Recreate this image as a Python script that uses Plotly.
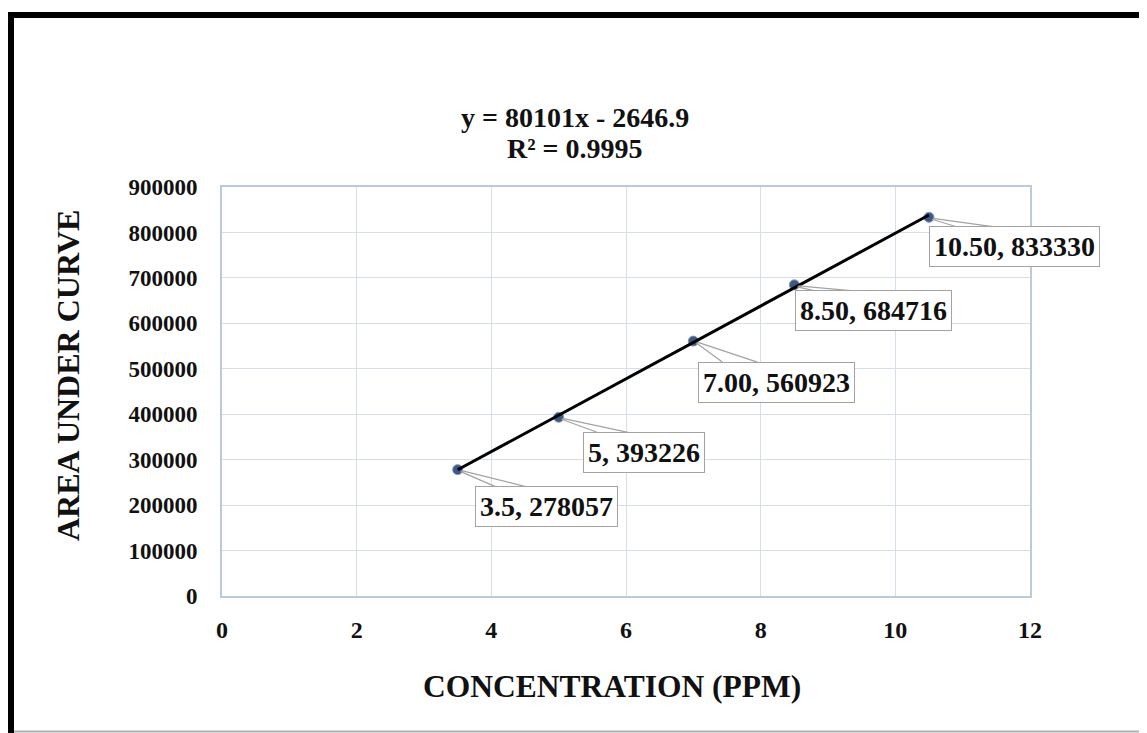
import plotly.graph_objects as go

# ---- data ----
conc = [3.5, 5, 7, 8.5, 10.5]
area = [278057, 393226, 560923, 684716, 833330]
conc_text = ["3.5", "5", "7.00", "8.50", "10.50"]
area_text = ["278057", "393226", "560923", "684716", "833330"]
slope = 80101
intercept = -2646.9
r2_text = "0.9995"
x_ticks = [0, 2, 4, 6, 8, 10, 12]
y_ticks = [0, 100000, 200000, 300000, 400000, 500000, 600000, 700000, 800000, 900000]

# ---- layout geometry (screen pixels; page body has an 8px margin) ----
OFF = 8
W, H = 1147 - OFF, 733 - OFF
ML, MT = 222 - OFF, 187 - OFF
PW, PH = 808, 409
MR, MB = W - ML - PW, H - MT - PH


def fx(px):
    return (px - OFF - ML) / PW


def fy(py):
    return (MT + PH - (py - OFF)) / PH


# label box offsets (px, right / down) and wedge base offsets
label_off = [(89, 37), (85, 35), (83, 41), (79, 26), (85, 29)]
wedge = [(40, 72, 18), (41, 74, 16), (29, 64, 21), (25, 70, 7), (29, 69, 10)]

SERIF = "Liberation Serif, Times New Roman, serif"
GRAY = "#a3a3a3"

trend_x = [conc[0], conc[-1]]
trend_y = [slope * v + intercept for v in trend_x]

fig = go.Figure()
fig.add_trace(go.Scatter(x=conc, y=area, mode="markers",
                         marker=dict(size=10, color="#3e5886",
                                     line=dict(color="#8397b8", width=1)),
                         showlegend=False, hoverinfo="x+y"))
fig.add_trace(go.Scatter(x=trend_x, y=trend_y, mode="lines",
                         line=dict(color="black", width=3),
                         showlegend=False, hoverinfo="skip"))

shapes = []
# black frame
shapes.append(dict(type="rect", xref="paper", yref="paper",
                   x0=fx(11), x1=fx(1147 + 20), y0=fy(15), y1=fy(733 + 20),
                   fillcolor="white", line=dict(color="black", width=6), layer="below"))
# bottom gray line
shapes.append(dict(type="line", xref="paper", yref="paper",
                   x0=fx(14), x1=fx(1147 + 5), y0=fy(731.5), y1=fy(731.5),
                   line=dict(color="#b0b0b0", width=2), layer="below"))

annotations = []
for i in range(len(conc)):
    a, b, d = wedge[i]
    shapes.append(dict(type="path", xref="x", yref="y",
                       xsizemode="pixel", ysizemode="pixel",
                       xanchor=conc[i], yanchor=area[i],
                       path=f"M 3,-2 L {a},{-d} M 4,-1 L {b},{-d}",
                       line=dict(color=GRAY, width=1.2)))
    dx, dy = label_off[i]
    annotations.append(dict(x=conc[i], y=area[i], xref="x", yref="y",
                            text=f"<b>{conc_text[i]}, {area_text[i]}</b>",
                            showarrow=False, xshift=dx, yshift=-dy,
                            xanchor="center", yanchor="middle",
                            font=dict(family=SERIF, size=28, color="#111111"),
                            bgcolor="white", bordercolor=GRAY, borderwidth=1,
                            borderpad=4))

# equation
annotations.append(dict(x=fx(575), y=fy(117), xref="paper", yref="paper",
                        text=f"<b>y = {slope}x - {abs(intercept)}</b>", showarrow=False,
                        xanchor="center", yanchor="middle",
                        font=dict(family=SERIF, size=28, color="#111111")))
annotations.append(dict(x=fx(575), y=fy(149), xref="paper", yref="paper",
                        text=f"<b>R² = {r2_text}</b>", showarrow=False,
                        xanchor="center", yanchor="middle",
                        font=dict(family=SERIF, size=28, color="#111111")))
# axis titles
annotations.append(dict(x=fx(612), y=fy(686), xref="paper", yref="paper",
                        text="<b>CONCENTRATION (PPM)</b>", showarrow=False,
                        xanchor="center", yanchor="middle",
                        font=dict(family=SERIF, size=31.5, color="#111111")))
annotations.append(dict(x=fx(68), y=fy(376), xref="paper", yref="paper",
                        text="<b>AREA UNDER CURVE</b>", showarrow=False,
                        textangle=-90, xanchor="center", yanchor="middle",
                        font=dict(family=SERIF, size=32, color="#111111")))

fig.update_layout(
    width=W, height=H,
    margin=dict(l=ML, r=MR, t=MT, b=MB, autoexpand=False),
    paper_bgcolor="white", plot_bgcolor="white",
    shapes=shapes, annotations=annotations,
    xaxis=dict(range=[0, 12], tickvals=x_ticks, ticktext=[f"<b>{v}</b>" for v in x_ticks],
               showgrid=True, gridcolor="#d6dee8", gridwidth=1,
               showline=True, linecolor="#bccadb", linewidth=2, mirror=True,
               ticks="", zeroline=False, ticklabelstandoff=11,
               tickfont=dict(family=SERIF, size=24, color="#111111")),
    yaxis=dict(range=[0, 900000], tickvals=y_ticks, ticktext=[f"<b>{v}</b>" for v in y_ticks],
               showgrid=True, gridcolor="#d6dee8", gridwidth=1,
               showline=True, linecolor="#bccadb", linewidth=2, mirror=True,
               ticks="", zeroline=False, ticklabelstandoff=18,
               tickfont=dict(family=SERIF, size=23, color="#111111")),
)

fig.write_html("out.html")
